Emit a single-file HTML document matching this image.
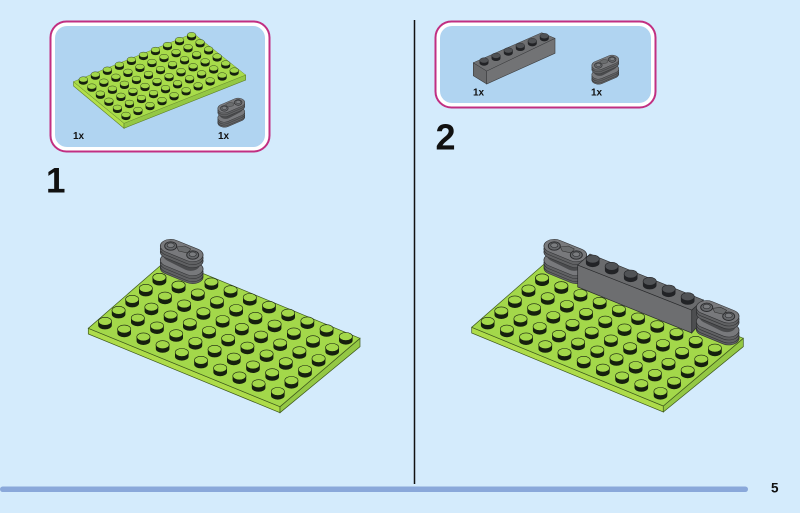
<!DOCTYPE html>
<html><head><meta charset="utf-8"><style>
html,body{margin:0;padding:0;background:#d4ebfc}
svg{display:block}
text{font-family:"Liberation Sans",sans-serif;font-weight:bold;fill:#111}
</style></head><body>
<svg width="800" height="513" viewBox="0 0 800 513" xmlns="http://www.w3.org/2000/svg">
<defs>
<g id="st"><path d="M-6.8-2v4a6.8 4.1 0 0 0 13.6 0v-4z" fill="#16200e"/><ellipse cx="0" cy="-2" rx="6.6" ry="4" fill="#a3d84a" stroke="#16200e" stroke-width=".6"/></g>
<g id="gs"><path d="M-6.8-2v4a6.8 4.1 0 0 0 13.6 0v-4z" fill="#222326"/><ellipse cx="0" cy="-2" rx="6.6" ry="4" fill="#505255" stroke="#222326" stroke-width=".6"/></g>
<g id="r1"><use href="#st" x="0"/><use href="#st" x="19.2" y="7.8"/><use href="#st" x="38.4" y="15.6"/><use href="#st" x="57.6" y="23.4"/><use href="#st" x="76.8" y="31.2"/><use href="#st" x="96" y="39"/><use href="#st" x="115.2" y="46.8"/><use href="#st" x="134.4" y="54.6"/><use href="#st" x="153.6" y="62.4"/><use href="#st" x="172.8" y="70.2"/></g>
<g id="r2"><use href="#st" transform="scale(.66)"/><use href="#st" transform="translate(12.03,-4.93) scale(.66)"/><use href="#st" transform="translate(24.06,-9.86) scale(.66)"/><use href="#st" transform="translate(36.09,-14.79) scale(.66)"/><use href="#st" transform="translate(48.12,-19.72) scale(.66)"/><use href="#st" transform="translate(60.15,-24.65) scale(.66)"/><use href="#st" transform="translate(72.18,-29.58) scale(.66)"/><use href="#st" transform="translate(84.21,-34.51) scale(.66)"/><use href="#st" transform="translate(96.24,-39.44) scale(.66)"/><use href="#st" transform="translate(108.27,-44.37) scale(.66)"/></g>
<g id="oS"><g transform="scale(1,.65)" stroke-linecap="round"><line x1="0" y1="0" x2="22" y2="13.8" stroke="#2e2f31" stroke-width="21.5"/><line x1="0" y1="0" x2="22" y2="13.8" stroke="#606163" stroke-width="20"/></g></g>
<g id="oT"><g transform="scale(1,.65)" stroke-linecap="round"><line x1="0" y1="0" x2="22" y2="13.8" stroke="#2e2f31" stroke-width="21.5"/><line x1="0" y1="0" x2="22" y2="13.8" stroke="#78797c" stroke-width="20"/></g></g>
<g id="oN"><g transform="scale(1,.65)" stroke-linecap="round"><line x1="2" y1="0" x2="20" y2="13.8" stroke="#4a4b4d" stroke-width="18"/></g></g>
<g id="piece">
<use href="#oS" y="22"/><use href="#oS" y="20"/><use href="#oS" y="17"/><use href="#oT" y="14"/>
<use href="#oN" y="10"/>
<use href="#oS" y="6"/><use href="#oS" y="3"/><use href="#oT" y="0"/>
<path d="M6 1l8-1 6 3-3 4-9-2z" fill="#6a6c6e" stroke="#333" stroke-width=".6"/>
<ellipse cx="0" cy="0" rx="6" ry="4.2" fill="#66686b" stroke="#2a2b2d" stroke-width=".9"/><ellipse cx="0" cy="-.8" rx="3.6" ry="2.3" fill="#7a7c7f" stroke="#2a2b2d" stroke-width=".6"/>
<ellipse cx="22" cy="9" rx="6" ry="4.2" fill="#66686b" stroke="#2a2b2d" stroke-width=".9"/><ellipse cx="22" cy="8.2" rx="3.6" ry="2.3" fill="#7a7c7f" stroke="#2a2b2d" stroke-width=".6"/>
</g>
</defs>

<rect width="800" height="513" fill="#d4ebfc"/>

<rect x="50.5" y="21.5" width="219" height="130" rx="16" fill="#fff" stroke="#c12f82" stroke-width="2"/>
<rect x="55" y="26" width="210" height="121" rx="12" fill="#b0d4f1"/>
<rect x="435.5" y="21.5" width="220" height="86" rx="16" fill="#fff" stroke="#c12f82" stroke-width="2"/>
<rect x="440" y="26" width="211" height="77" rx="12" fill="#b0d4f1"/>

<path d="M73.5 81.7V86L124 128.3V123.3z" fill="#b2e04a" stroke="#5f8028" stroke-width=".6"/>
<path d="M124 123.3V128.3L245.7 80V75z" fill="#94c844" stroke="#5f8028" stroke-width=".6"/>
<path d="M73.5 81.7L193.3 33.3 245.7 75 124 123.3z" fill="#a8dc4a" stroke="#6f9030" stroke-width=".5"/>
<use href="#r2" x="83.3" y="80.7"/><use href="#r2" x="91.83" y="87.77"/><use href="#r2" x="100.36" y="94.84"/><use href="#r2" x="108.89" y="101.91"/><use href="#r2" x="117.42" y="108.98"/><use href="#r2" x="125.95" y="116.05"/>
<use href="#piece" transform="translate(238.2,102.5) scale(-.63,.66)"/>

<path d="M473.3 62.7L486.7 71V84L473.3 75.7z" fill="#68696b" stroke="#3a3b3d" stroke-width=".6"/>
<path d="M486.7 71L555 38.3V53.3L486.7 84z" fill="#727375" stroke="#3a3b3d" stroke-width=".6"/>
<path d="M473.3 62.7L541.7 32.7 555 38.3 486.7 71z" fill="#6f7072" stroke="#3a3b3d" stroke-width=".5"/>
<use href="#gs" transform="translate(484,61.7) scale(.66)"/><use href="#gs" transform="translate(496,57) scale(.66)"/><use href="#gs" transform="translate(508.3,51.7) scale(.66)"/><use href="#gs" transform="translate(520.3,47) scale(.66)"/><use href="#gs" transform="translate(532.3,42.3) scale(.66)"/><use href="#gs" transform="translate(544.3,37.3) scale(.66)"/>
<use href="#piece" transform="translate(612.2,59.5) scale(-.63,.66)"/>

<text x="73" y="139" font-size="10">1x</text>
<text x="218" y="139" font-size="10">1x</text>
<text x="473" y="95.5" font-size="10">1x</text>
<text x="591" y="95.5" font-size="10">1x</text>
<text x="46" y="192.7" font-size="35">1</text>
<text x="435.5" y="149.3" font-size="36">2</text>

<path d="M88.3 328.3V334L280 412.7V406.7z" fill="#aedc4a" stroke="#3f5a1c" stroke-width=".7"/>
<path d="M280 406.7V412.7L360 346.7V338.3z" fill="#94c844" stroke="#3f5a1c" stroke-width=".7"/>
<path d="M88.3 328.3L168 259 360 338.3 280 406.7z" fill="#a3d84a" stroke="#3f5a1c" stroke-width=".7"/>
<use href="#r1" x="173" y="268.3"/><use href="#r1" x="159.4" y="279.3"/><use href="#r1" x="145.8" y="290.3"/>
<use href="#r1" x="132.2" y="301.3"/><use href="#r1" x="118.6" y="312.3"/><use href="#r1" x="105" y="323.3"/>
<use href="#piece" x="170.7" y="246"/>
<use href="#st" x="159.4" y="279.3"/>
<use href="#st" x="178.6" y="287.1"/>

<path d="M471.7 327.3V333L663.3 412V406z" fill="#aedc4a" stroke="#3f5a1c" stroke-width=".7"/>
<path d="M663.3 406V412L743.3 346.7V338.3z" fill="#94c844" stroke="#3f5a1c" stroke-width=".7"/>
<path d="M471.7 327.3L551 258 743.3 338.3 663.3 406z" fill="#a3d84a" stroke="#3f5a1c" stroke-width=".7"/>
<use href="#r1" x="542.1" y="279.9"/><use href="#r1" x="528.5" y="290.9"/><use href="#r1" x="514.9" y="301.9"/><use href="#r1" x="501.3" y="312.9"/><use href="#r1" x="487.7" y="323.3"/>
<use href="#piece" x="554.3" y="246"/>
<use href="#st" x="542.1" y="279.9"/>
<use href="#st" x="561.3" y="287.7"/>
<path d="M691.7 310L703.3 300V320L691.7 333z" fill="#4d4e50" stroke="#2a2b2d" stroke-width=".7"/>
<path d="M577.7 265L691.7 310V333L577.7 287z" fill="#6d6e70" stroke="#2a2b2d" stroke-width=".7"/>
<path d="M577.7 265L590 254 703.3 300 691.7 310z" fill="#6a6b6d" stroke="#2a2b2d" stroke-width=".6"/>
<use href="#gs" x="592.7" y="261"/><use href="#gs" x="611.7" y="268.3"/><use href="#gs" x="630.7" y="276"/><use href="#gs" x="649.7" y="283.3"/><use href="#gs" x="668.7" y="291"/><use href="#gs" x="687.7" y="298.7"/>
<use href="#piece" x="706.7" y="307.3"/>

<line x1="414.5" y1="20" x2="414.5" y2="484" stroke="#111" stroke-width="1.5"/>
<rect x="0" y="486.5" width="748" height="5.5" rx="2.7" fill="#8aa8da"/>
<text x="771" y="492.7" font-size="13.5">5</text>
</svg>
</body></html>
